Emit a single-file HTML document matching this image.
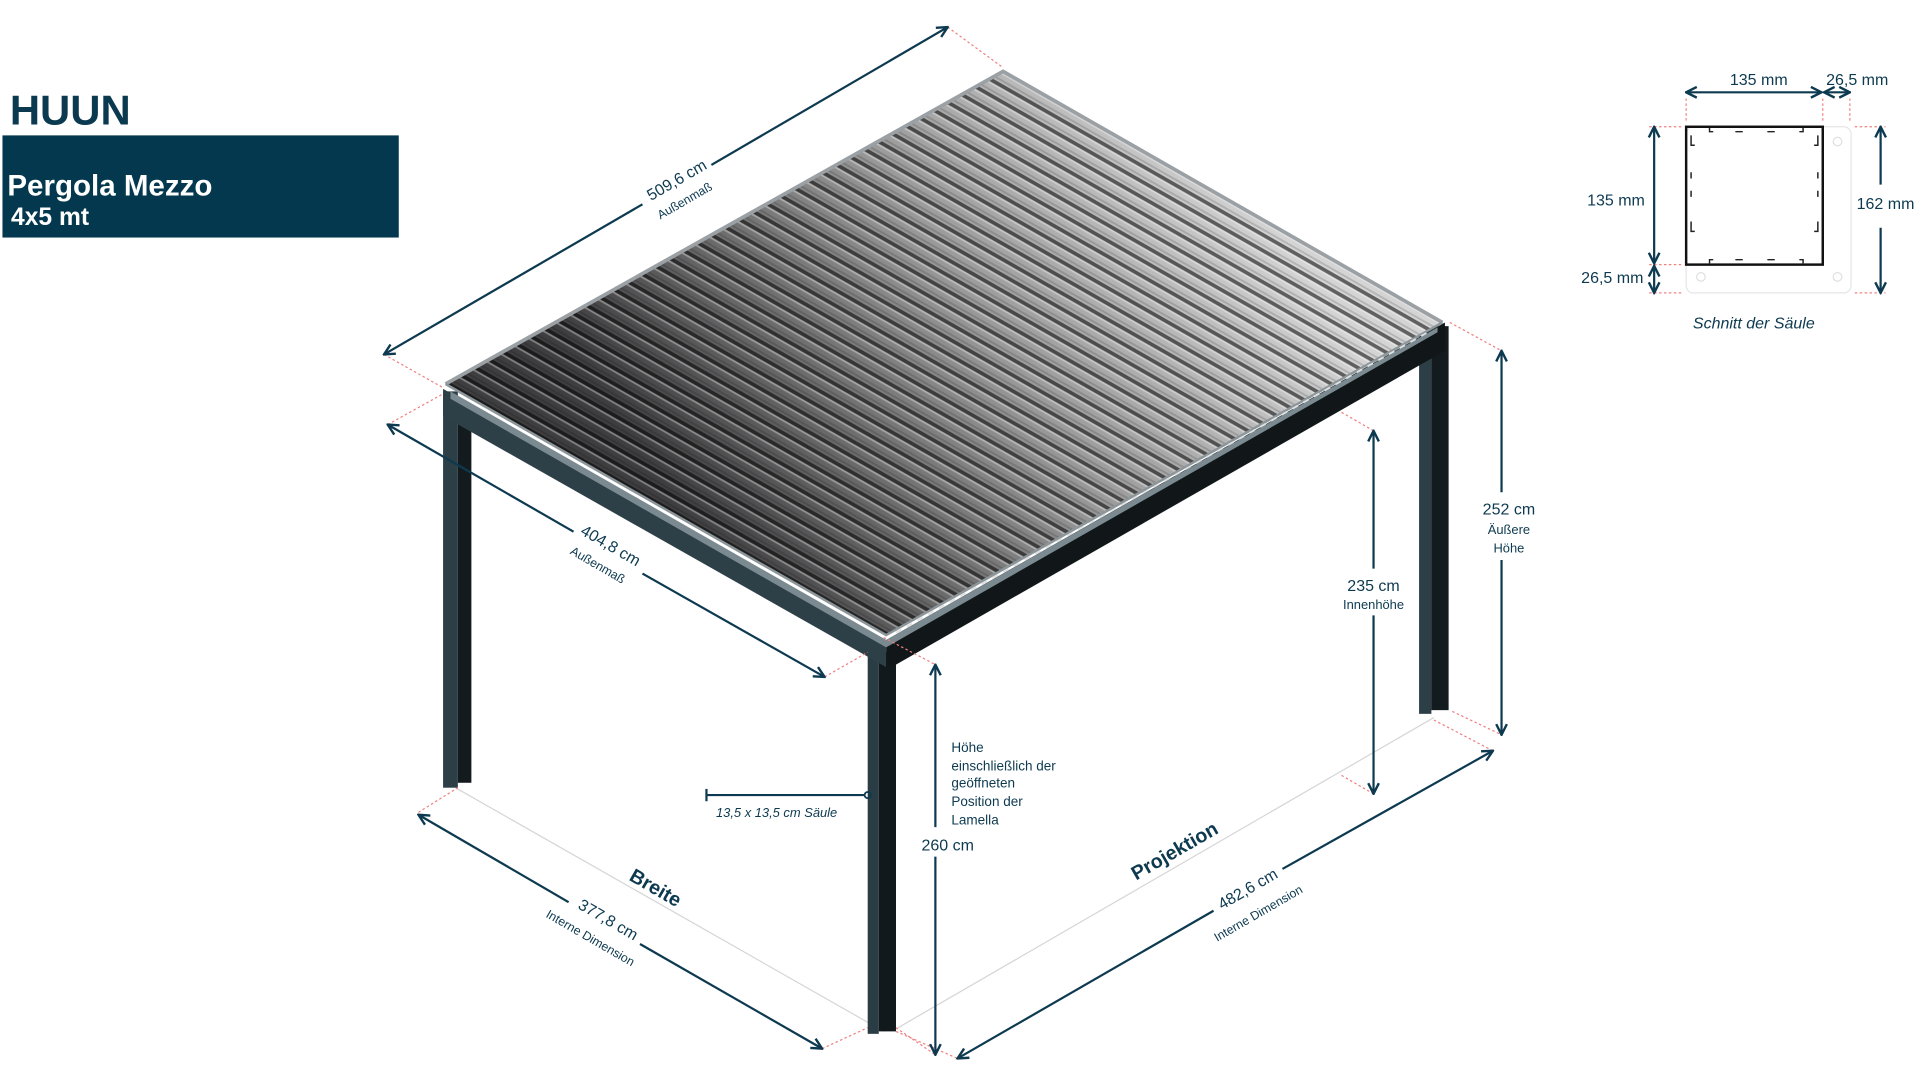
<!DOCTYPE html>
<html><head><meta charset="utf-8"><style>
html,body{margin:0;padding:0;background:#fff;width:1920px;height:1080px;overflow:hidden}
svg{display:block}
text{font-family:"Liberation Sans",sans-serif;fill:#0d3a50}
</style></head><body>
<svg width="1920" height="1080" viewBox="0 0 1560 877.5" xmlns="http://www.w3.org/2000/svg">
<defs>
<marker id="a" viewBox="0 0 10 10" refX="9" refY="5" markerWidth="6" markerHeight="6" orient="auto-start-reverse"><path d="M1,1 L9,5 L1,9" fill="none" stroke="#0d3a50" stroke-width="1.8"/></marker>
<linearGradient id="rg" gradientUnits="userSpaceOnUse" x1="1010" y1="140" x2="560" y2="430">
<stop offset="0" stop-color="#d4d4d4"/><stop offset="0.45" stop-color="#9a9a9a"/><stop offset="1" stop-color="#3e3e40"/></linearGradient>
<pattern id="st" patternUnits="userSpaceOnUse" width="400" height="11.1" patternTransform="rotate(29.7)">
<rect x="0" y="0" width="400" height="3" fill="rgba(0,0,0,0.55)"/>
<rect x="0" y="3" width="400" height="1.5" fill="rgba(255,255,255,0.35)"/>
<rect x="0" y="8" width="400" height="1.5" fill="rgba(0,0,0,0.15)"/>
</pattern>
</defs>

<!-- title -->
<text x="8" y="101" font-size="34" font-weight="bold" style="fill:#0b3a50">HUUN</text>
<rect x="2" y="110" width="322" height="83" fill="#03384f"/>
<text x="6" y="159" font-size="24" font-weight="bold" style="fill:#fff">Pergola Mezzo</text>
<text x="9" y="183" font-size="20" font-weight="bold" style="fill:#fff">4x5 mt</text>

<!-- ground lines -->
<line x1="370" y1="640" x2="718" y2="838" stroke="#d6d6d6" stroke-width="1"/>
<line x1="728" y1="836" x2="1165" y2="583" stroke="#d6d6d6" stroke-width="1"/>

<!-- columns -->
<rect x="360" y="318" width="12" height="322" fill="#2c3e46"/>
<rect x="372" y="330" width="11" height="306" fill="#141b1e"/>
<rect x="1153" y="265" width="10" height="315" fill="#2c3e46"/>
<rect x="1163" y="265" width="14" height="312" fill="#141b1e"/>
<rect x="705" y="520" width="9" height="320" fill="#2a3c44"/>
<rect x="714" y="530" width="14" height="308" fill="#12191c"/>

<!-- roof beams -->
<polygon points="360,316 720,520 720,542 360,338" fill="#2d3f47"/>
<polygon points="720,520 1174,262 1174,285 728,540 720,542" fill="#111719"/>
<polygon points="366,318 720,520 1168,266 1168,270 720,526 366,324" fill="#7a8a90"/>
<!-- roof -->
<polygon points="815,58 1172,262 720,516 362,312" fill="url(#rg)"/>
<polygon points="815,58 1172,262 720,516 362,312" fill="url(#st)"/>
<polyline points="362,312 815,58 1172,262" fill="none" stroke="#9aa0a4" stroke-width="3"/>
<polyline points="362,312 720,516 1172,262" fill="none" stroke="#8c969a" stroke-width="2"/>
<line x1="728" y1="514" x2="1160" y2="270" stroke="#e0e0e0" stroke-width="1.5" stroke-dasharray="5 5"/>

<!-- red extension lines -->
<g stroke="#f08080" stroke-width="1" stroke-dasharray="2 2" fill="none">
<line x1="770" y1="22" x2="815" y2="55"/><line x1="312" y1="288" x2="360" y2="315"/>
<line x1="315" y1="345" x2="360" y2="320"/><line x1="670" y1="550" x2="705" y2="530"/>
<line x1="340" y1="660" x2="372" y2="640"/><line x1="668" y1="852" x2="705" y2="835"/>
<line x1="1165" y1="585" x2="1213" y2="610"/><line x1="728" y1="838" x2="778" y2="860"/>
<line x1="718" y1="518" x2="760" y2="540"/><line x1="728" y1="835" x2="760" y2="857"/>
<line x1="1090" y1="335" x2="1116" y2="350"/><line x1="1090" y1="630" x2="1116" y2="645"/>
<line x1="1178" y1="262" x2="1220" y2="285"/><line x1="1180" y1="578" x2="1220" y2="597"/>
<line x1="1370" y1="80" x2="1370" y2="100"/><line x1="1481" y1="80" x2="1481" y2="100"/><line x1="1503" y1="80" x2="1503" y2="100"/>
<line x1="1340" y1="103" x2="1366" y2="103"/><line x1="1340" y1="215" x2="1366" y2="215"/><line x1="1340" y1="238" x2="1366" y2="238"/>
<line x1="1507" y1="103" x2="1532" y2="103"/><line x1="1507" y1="238" x2="1532" y2="238"/>
</g>

<!-- dimension lines -->
<g stroke="#0d3a50" stroke-width="1.8" fill="none">
<line x1="312" y1="288" x2="522" y2="166" marker-start="url(#a)"/>
<line x1="578" y1="134" x2="770" y2="22" marker-end="url(#a)"/>
<line x1="315" y1="345" x2="466" y2="432" marker-start="url(#a)"/>
<line x1="522" y1="466" x2="670" y2="550" marker-end="url(#a)"/>
<line x1="340" y1="662" x2="462" y2="733" marker-start="url(#a)"/>
<line x1="520" y1="767" x2="668" y2="852" marker-end="url(#a)"/>
<line x1="778" y1="860" x2="986" y2="740" marker-start="url(#a)"/>
<line x1="1042" y1="706" x2="1213" y2="610" marker-end="url(#a)"/>
<line x1="760" y1="540" x2="760" y2="672" marker-start="url(#a)"/>
<line x1="760" y1="696" x2="760" y2="857" marker-end="url(#a)"/>
<line x1="1116" y1="350" x2="1116" y2="462" marker-start="url(#a)"/>
<line x1="1116" y1="500" x2="1116" y2="645" marker-end="url(#a)"/>
<line x1="1220" y1="285" x2="1220" y2="400" marker-start="url(#a)"/>
<line x1="1220" y1="455" x2="1220" y2="597" marker-end="url(#a)"/>
<line x1="574" y1="646" x2="702" y2="646"/>
<line x1="574" y1="641" x2="574" y2="651"/>
</g>
<circle cx="705" cy="646" r="2.5" fill="none" stroke="#0d3a50" stroke-width="1.5"/>

<!-- dimension labels -->
<text transform="translate(552,150) rotate(-30)" font-size="13" text-anchor="middle">509,6 cm</text>
<text transform="translate(558,166) rotate(-30)" font-size="10" text-anchor="middle">Außenmaß</text>
<text transform="translate(494,447) rotate(30)" font-size="13" text-anchor="middle">404,8 cm</text>
<text transform="translate(484,462) rotate(30)" font-size="10" text-anchor="middle">Außenmaß</text>
<text transform="translate(530,726) rotate(30)" font-size="16" font-weight="bold" text-anchor="middle">Breite</text>
<text transform="translate(492,751) rotate(30)" font-size="13" text-anchor="middle">377,8 cm</text>
<text transform="translate(478,765) rotate(30)" font-size="10" text-anchor="middle">Interne Dimension</text>
<text transform="translate(957,696) rotate(-30)" font-size="16" font-weight="bold" text-anchor="middle">Projektion</text>
<text transform="translate(1016,726) rotate(-30)" font-size="13" text-anchor="middle">482,6 cm</text>
<text transform="translate(1024,745) rotate(-30)" font-size="10" text-anchor="middle">Interne Dimension</text>
<text x="770" y="691" font-size="13" text-anchor="middle">260 cm</text>
<text x="1116" y="480" font-size="13" text-anchor="middle">235 cm</text>
<text x="1116" y="495" font-size="10.5" text-anchor="middle">Innenhöhe</text>
<text x="1226" y="418" font-size="13" text-anchor="middle">252 cm</text>
<text x="1226" y="434" font-size="10.5" text-anchor="middle">Äußere</text>
<text x="1226" y="449" font-size="10.5" text-anchor="middle">Höhe</text>
<text x="631" y="664" font-size="10.5" font-style="italic" text-anchor="middle">13,5 x 13,5 cm Säule</text>
<g font-size="11">
<text x="773" y="611">Höhe</text>
<text x="773" y="626">einschließlich der</text>
<text x="773" y="640">geöffneten</text>
<text x="773" y="655">Position der</text>
<text x="773" y="670">Lamella</text>
</g>

<!-- section -->
<rect x="1370" y="103" width="134" height="135" rx="6" fill="none" stroke="#e6e6e6" stroke-width="1"/>
<circle cx="1493" cy="115" r="3.5" fill="none" stroke="#e0e0e0"/>
<circle cx="1382" cy="225" r="3.5" fill="none" stroke="#e0e0e0"/>
<circle cx="1493" cy="225" r="3.5" fill="none" stroke="#e0e0e0"/>
<rect x="1370" y="103" width="111" height="112" fill="none" stroke="#111" stroke-width="2"/>
<g stroke="#222" stroke-width="1.2" fill="none">
<path d="M1374,110 v8 h3 M1374,180 v8 h3 M1477,110 v8 h-3 M1477,180 v8 h-3 M1374,140 v5 M1374,155 v5 M1477,140 v5 M1477,155 v5"/>
<path d="M1392,107 h-3 v-3 M1410,107 h6 M1436,107 h6 M1462,107 h3 v-3 M1392,211 h-3 v3 M1410,211 h6 M1436,211 h6 M1462,211 h3 v3"/>
</g>
<g stroke="#0d3a50" stroke-width="1.8" fill="none">
<line x1="1370" y1="75" x2="1480" y2="75" marker-start="url(#a)" marker-end="url(#a)"/>
<line x1="1482" y1="75" x2="1503" y2="75" marker-start="url(#a)" marker-end="url(#a)"/>
<line x1="1344" y1="103" x2="1344" y2="214" marker-start="url(#a)" marker-end="url(#a)"/>
<line x1="1344" y1="216" x2="1344" y2="238" marker-start="url(#a)" marker-end="url(#a)"/>
<line x1="1528" y1="103" x2="1528" y2="150" marker-start="url(#a)"/>
<line x1="1528" y1="185" x2="1528" y2="238" marker-end="url(#a)"/>
</g>
<text x="1429" y="69" font-size="13" text-anchor="middle">135 mm</text>
<text x="1509" y="69" font-size="13" text-anchor="middle">26,5 mm</text>
<text x="1313" y="167" font-size="13" text-anchor="middle">135 mm</text>
<text x="1310" y="230" font-size="13" text-anchor="middle">26,5 mm</text>
<text x="1532" y="170" font-size="13" text-anchor="middle">162 mm</text>
<text x="1425" y="267" font-size="13" font-style="italic" text-anchor="middle">Schnitt der Säule</text>
</svg>
</body></html>
